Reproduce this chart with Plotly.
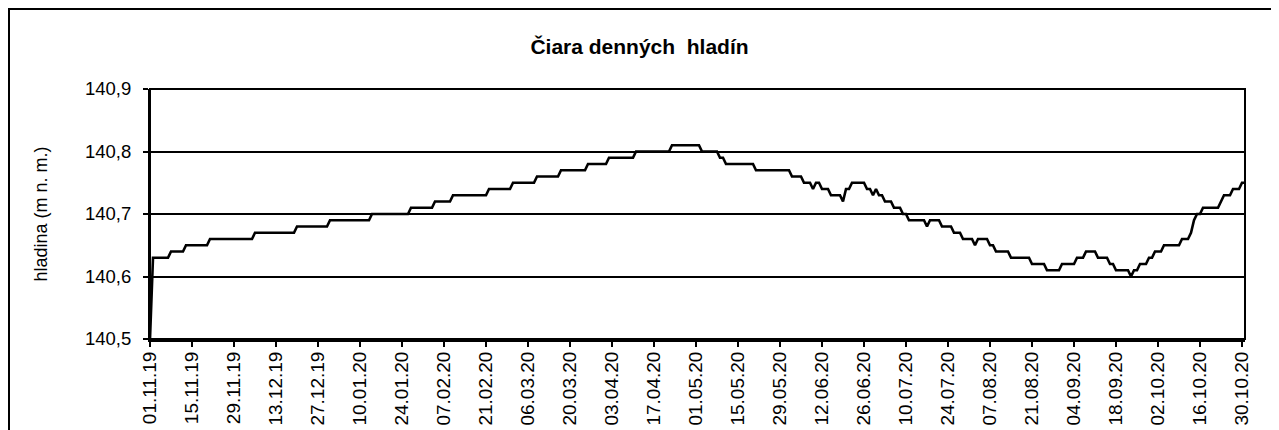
import pandas as pd
import plotly.graph_objects as go

title_text = "Čiara denných  hladín"
y_title = "hladina (m n. m.)"

tick_labels = ["01.11.19", "15.11.19", "29.11.19", "13.12.19", "27.12.19", "10.01.20",
               "24.01.20", "07.02.20", "21.02.20", "06.03.20", "20.03.20", "03.04.20",
               "17.04.20", "01.05.20", "15.05.20", "29.05.20", "12.06.20", "26.06.20",
               "10.07.20", "24.07.20", "07.08.20", "21.08.20", "04.09.20", "18.09.20",
               "02.10.20", "16.10.20", "30.10.20"]

start_date = "2019-11-01"

# daily water levels (m a.s.l.), 01.11.2019 - 31.10.2020
levels = [
    140.50,
    140.63, 140.63, 140.63, 140.63, 140.63, 140.63,
    140.64, 140.64, 140.64, 140.64, 140.64,
    140.65, 140.65, 140.65, 140.65, 140.65, 140.65, 140.65, 140.65,
    140.66, 140.66, 140.66, 140.66, 140.66, 140.66, 140.66, 140.66, 140.66, 140.66,
    140.66, 140.66, 140.66, 140.66, 140.66,
    140.67, 140.67, 140.67, 140.67, 140.67, 140.67, 140.67, 140.67, 140.67, 140.67,
    140.67, 140.67, 140.67, 140.67,
    140.68, 140.68, 140.68, 140.68, 140.68, 140.68, 140.68, 140.68, 140.68, 140.68, 140.68,
    140.69, 140.69, 140.69, 140.69, 140.69, 140.69, 140.69, 140.69, 140.69, 140.69,
    140.69, 140.69, 140.69, 140.69,
    140.70, 140.70, 140.70, 140.70, 140.70, 140.70, 140.70, 140.70, 140.70, 140.70,
    140.70, 140.70, 140.70,
    140.71, 140.71, 140.71, 140.71, 140.71, 140.71, 140.71, 140.71,
    140.72, 140.72, 140.72, 140.72, 140.72, 140.72,
    140.73, 140.73, 140.73, 140.73, 140.73, 140.73, 140.73, 140.73, 140.73, 140.73,
    140.73, 140.73,
    140.74, 140.74, 140.74, 140.74, 140.74, 140.74, 140.74, 140.74,
    140.75, 140.75, 140.75, 140.75, 140.75, 140.75, 140.75, 140.75,
    140.76, 140.76, 140.76, 140.76, 140.76, 140.76, 140.76, 140.76,
    140.77, 140.77, 140.77, 140.77, 140.77, 140.77, 140.77, 140.77, 140.77,
    140.78, 140.78, 140.78, 140.78, 140.78, 140.78, 140.78,
    140.79, 140.79, 140.79, 140.79, 140.79, 140.79, 140.79, 140.79, 140.79,
    140.80, 140.80, 140.80, 140.80, 140.80, 140.80, 140.80, 140.80, 140.80, 140.80,
    140.80, 140.80,
    140.81, 140.81, 140.81, 140.81, 140.81, 140.81, 140.81, 140.81, 140.81, 140.81,
    140.80, 140.80, 140.80, 140.80, 140.80, 140.80,
    140.79, 140.79,
    140.78, 140.78, 140.78, 140.78, 140.78, 140.78, 140.78, 140.78, 140.78, 140.78,
    140.77, 140.77, 140.77, 140.77, 140.77, 140.77, 140.77, 140.77, 140.77, 140.77,
    140.77, 140.77,
    140.76, 140.76, 140.76, 140.76,
    140.75, 140.75, 140.75,
    140.74,
    140.75, 140.75,
    140.74, 140.74, 140.74,
    140.73, 140.73, 140.73, 140.73,
    140.72,
    140.74, 140.74,
    140.75, 140.75, 140.75, 140.75, 140.75,
    140.74, 140.74,
    140.73,
    140.74,
    140.73, 140.73,
    140.72, 140.72, 140.72,
    140.71, 140.71, 140.71,
    140.70, 140.70,
    140.69, 140.69, 140.69, 140.69, 140.69, 140.69,
    140.68,
    140.69, 140.69, 140.69, 140.69,
    140.68, 140.68, 140.68, 140.68,
    140.67, 140.67, 140.67,
    140.66, 140.66, 140.66, 140.66,
    140.65,
    140.66, 140.66, 140.66, 140.66,
    140.65, 140.65,
    140.64, 140.64, 140.64, 140.64, 140.64,
    140.63, 140.63, 140.63, 140.63, 140.63, 140.63, 140.63,
    140.62, 140.62, 140.62, 140.62, 140.62,
    140.61, 140.61, 140.61, 140.61, 140.61,
    140.62, 140.62, 140.62, 140.62, 140.62,
    140.63, 140.63, 140.63,
    140.64, 140.64, 140.64, 140.64,
    140.63, 140.63, 140.63, 140.63,
    140.62, 140.62,
    140.61, 140.61, 140.61, 140.61, 140.61,
    140.60,
    140.61, 140.61,
    140.62, 140.62, 140.62,
    140.63, 140.63,
    140.64, 140.64, 140.64,
    140.65, 140.65, 140.65, 140.65, 140.65, 140.65,
    140.66, 140.66, 140.66,
    140.67,
    140.69,
    140.70, 140.70,
    140.71, 140.71, 140.71, 140.71, 140.71, 140.71,
    140.72,
    140.73, 140.73, 140.73,
    140.74, 140.74, 140.74,
    140.75, 140.75,
]

dates = pd.date_range(start_date, periods=len(levels), freq="D")
tick_dates = pd.to_datetime(tick_labels, format="%d.%m.%y")

FONT = "Liberation Sans, Arial, sans-serif"

fig = go.Figure()
fig.add_trace(go.Scatter(
    x=dates, y=levels, mode="lines",
    line=dict(color="black", width=2.6),
    showlegend=False, hoverinfo="x+y",
))

# the page body has an 8px margin, so the figure is laid out in its own coordinates
W, H = 1271, 422
L, R, T, B = 142, 34, 81, 91
pw, ph = W - L - R, H - T - B

def px2x(p):
    return (p - L) / pw

def py2y(p):
    return (H - B - p) / ph

fig.update_layout(
    width=W, height=H,
    margin=dict(l=L, r=R, t=T, b=B, pad=0, autoexpand=False),
    paper_bgcolor="white", plot_bgcolor="white",
    separators=",.",
    font=dict(family=FONT, color="black", size=18),
    title=dict(text="<b>" + title_text + "</b>", x=(639.5 - 8) / W, xanchor="center",
               xref="container", y=1 - 39 / H, yanchor="middle", yref="container",
               font=dict(family=FONT, size=21, color="black")),
    xaxis=dict(
        type="date",
        range=[dates[0], dates[-1]],
        tickvals=tick_dates, ticktext=tick_labels,
        tickangle=-90,
        ticks="outside", ticklen=5, tickwidth=2, tickcolor="black",
        showline=True, linecolor="black", linewidth=3,
        showgrid=False, zeroline=False, automargin=False,
        ticklabelstandoff=-3,
        tickfont=dict(family=FONT, size=19, color="black"),
    ),
    yaxis=dict(
        range=[140.5, 140.9],
        tickvals=[140.5, 140.6, 140.7, 140.8, 140.9],
        tickformat=".1f",
        ticks="outside", ticklen=5, tickwidth=1.5, tickcolor="black",
        showline=True, linecolor="black", linewidth=2,
        showgrid=True, gridcolor="black", gridwidth=1.5,
        zeroline=False, automargin=False,
        ticklabelstandoff=8,
        tickfont=dict(family=FONT, size=18.5, color="black"),
        title=dict(text=y_title, font=dict(family=FONT, size=18, color="black"), standoff=33),
    ),
    shapes=[
        dict(type="rect", xref="paper", yref="paper", x0=0, x1=1, y0=0, y1=1,
             line=dict(color="black", width=2), layer="above"),
        dict(type="rect", xref="paper", yref="paper",
             x0=px2x(1), x1=px2x(1265), y0=py2y(440), y1=py2y(1),
             line=dict(color="black", width=2), layer="above"),
    ],
)

fig.write_html("out.html")
